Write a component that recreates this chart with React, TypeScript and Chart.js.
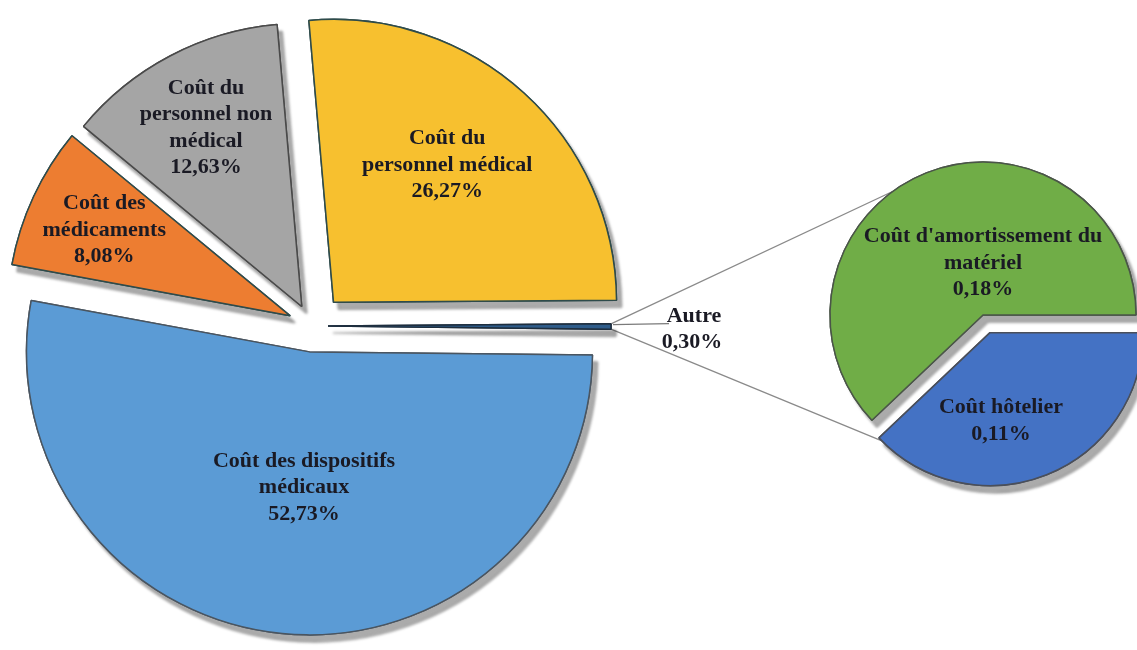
import React, { useEffect, useRef } from "react";
import { Chart, registerables, ArcElement } from "chart.js";

Chart.register(...registerables);

// ---------- DATA ----------
const mainCategories = [
  "Coût du personnel médical",
  "Autre",
  "Coût des dispositifs médicaux",
  "Coût des médicaments",
  "Coût du personnel non médical",
];
const mainValues = [26.27, 0.3, 52.73, 8.08, 12.63];
const mainLabelLines = [
  ["Coût du", "personnel médical"],
  ["Autre"],
  ["Coût des dispositifs", "médicaux"],
  ["Coût des", "médicaments"],
  ["Coût du", "personnel non", "médical"],
];

const subCategories = ["Coût hôtelier", "Coût d'amortissement du matériel"];
const subValues = [0.11, 0.18];
const subLabelLines = [["Coût hôtelier"], ["Coût d'amortissement du", "matériel"]];

// ---------- STYLE ----------
const MAIN_COLORS = ["#F7C02F", "#2E5C8A", "#5B9BD5", "#ED7D31", "#A5A5A5"];
const MAIN_BORDERS = ["#2E4B4B", "#1E2E3E", "#4A5560", "#2E4B4B", "#4A4A4A"];
const MAIN_EXPLODE = [32, 16, 26, 24, 22];
// [angle clockwise from top (deg), distance as fraction of radius] from the slice vertex
const MAIN_LABEL_POS: (number[] | null)[] = [
  [39.6, 0.63],
  null,
  [182.3, 0.48],
  [294.8, 0.724],
  [331.8, 0.716],
];
const SUB_COLORS = ["#4472C4", "#70AD47"];
const SUB_BORDERS = ["#4A4F5A", "#4A5548"];
const SUB_EXPLODE = [19, 0];
const SUB_LABEL_POS = [
  [172.9, 0.58],
  [0, 0.34],
];
const FONT = 'bold 22px "Liberation Serif", "Times New Roman", serif';
const TEXT_COLOR = "#1a1a24";
const LINE_H = 26.5;
const W = 1137;
const H = 650;

const pct = (v: number) => v.toFixed(2).replace(".", ",") + "%";

function vertex(el: any, t: number) {
  const mid = (el.startAngle + el.endAngle) / 2;
  return { x: el.x + Math.cos(mid) * t, y: el.y + Math.sin(mid) * t };
}
function polar(p: { x: number; y: number }, deg: number, r: number) {
  const a = (deg * Math.PI) / 180;
  return { x: p.x + Math.sin(a) * r, y: p.y - Math.cos(a) * r };
}

function explodePlugin(explode: number[]) {
  return {
    id: "explodeShadow",
    beforeDatasetsDraw(chart: any) {
      const meta = chart.getDatasetMeta(0);
      const orig = ArcElement.prototype.draw;
      meta.data.forEach((el: any, i: number) => {
        if (el.__patched) return;
        el.__patched = true;
        el.draw = function (ctx: CanvasRenderingContext2D) {
          const t = explode[i] || 0;
          const mid = (this.startAngle + this.endAngle) / 2;
          ctx.save();
          ctx.translate(Math.cos(mid) * t, Math.sin(mid) * t);
          ctx.save();
          ctx.shadowColor = "rgba(0,0,0,0.33)";
          ctx.shadowOffsetX = 5;
          ctx.shadowOffsetY = 7;
          ctx.shadowBlur = 3;
          orig.call(this, ctx);
          ctx.restore();
          orig.call(this, ctx);
          ctx.restore();
        };
      });
    },
  };
}

function drawLines(ctx: CanvasRenderingContext2D, lines: string[], x: number, y: number) {
  lines.forEach((s, k) => {
    ctx.fillText(s, x, y + (k - (lines.length - 1) / 2) * LINE_H);
  });
}

export default function App() {
  const mainRef = useRef<HTMLCanvasElement>(null);
  const subRef = useRef<HTMLCanvasElement>(null);

  useEffect(() => {
    if (!mainRef.current || !subRef.current) return;

    const subLabelsPlugin = {
      id: "subLabels",
      afterDatasetsDraw(chart: any) {
        const ctx = chart.ctx as CanvasRenderingContext2D;
        const meta = chart.getDatasetMeta(0);
        ctx.save();
        ctx.font = FONT;
        ctx.fillStyle = TEXT_COLOR;
        ctx.textAlign = "center";
        ctx.textBaseline = "middle";
        meta.data.forEach((el: any, i: number) => {
          const pos = SUB_LABEL_POS[i];
          const v = vertex(el, SUB_EXPLODE[i]);
          const p = polar(v, pos[0], pos[1] * el.outerRadius);
          drawLines(ctx, [...subLabelLines[i], pct(subValues[i])], p.x, p.y);
        });
        ctx.restore();
      },
    };

    const sub = new Chart(subRef.current, {
      type: "pie",
      data: {
        labels: subCategories,
        datasets: [
          {
            data: subValues,
            backgroundColor: SUB_COLORS,
            borderColor: SUB_BORDERS,
            borderWidth: 1.5,
          },
        ],
      },
      options: {
        responsive: false,
        animation: false,
        events: [],
        rotation: 90,
        radius: 153,
        layout: { padding: { left: 829, right: 0, top: 0, bottom: 20 } },
        plugins: { legend: { display: false }, tooltip: { enabled: false } },
      } as any,
      plugins: [explodePlugin(SUB_EXPLODE), subLabelsPlugin],
    });

    const mainLabelsPlugin = {
      id: "mainLabels",
      beforeDatasetsDraw(chart: any) {
        // connector lines from the "Autre" slice to the secondary pie
        const ctx = chart.ctx as CanvasRenderingContext2D;
        const el = chart.getDatasetMeta(0).data[1];
        const sm = sub.getDatasetMeta(0).data as any[];
        if (!el || !sm.length) return;
        const v = vertex(el, MAIN_EXPLODE[1]);
        const R = el.outerRadius;
        const s1 = { x: v.x + Math.cos(el.startAngle) * R, y: v.y + Math.sin(el.startAngle) * R };
        const s2 = { x: v.x + Math.cos(el.endAngle) * R, y: v.y + Math.sin(el.endAngle) * R };
        const g = sm[1];
        const gv = vertex(g, SUB_EXPLODE[1]);
        const top = polar(gv, 324, g.outerRadius);
        const b = sm[0];
        const bv = vertex(b, SUB_EXPLODE[0]);
        const bot = polar(bv, 225, b.outerRadius);
        ctx.save();
        ctx.strokeStyle = "#8a8a8a";
        ctx.lineWidth = 1.3;
        ctx.beginPath();
        ctx.moveTo(s1.x, s1.y);
        ctx.lineTo(top.x, top.y);
        ctx.moveTo(s2.x, s2.y);
        ctx.lineTo(bot.x, bot.y);
        ctx.stroke();
        ctx.restore();
      },
      afterDatasetsDraw(chart: any) {
        const ctx = chart.ctx as CanvasRenderingContext2D;
        const meta = chart.getDatasetMeta(0);
        ctx.save();
        ctx.font = FONT;
        ctx.fillStyle = TEXT_COLOR;
        ctx.textAlign = "center";
        ctx.textBaseline = "middle";
        meta.data.forEach((el: any, i: number) => {
          const pos = MAIN_LABEL_POS[i];
          const v = vertex(el, MAIN_EXPLODE[i]);
          if (!pos) {
            // outside label with leader line
            const mid = (el.startAngle + el.endAngle) / 2;
            const o = { x: v.x + Math.cos(mid) * el.outerRadius, y: v.y + Math.sin(mid) * el.outerRadius };
            ctx.save();
            ctx.strokeStyle = "#7a7a7a";
            ctx.lineWidth = 1.3;
            ctx.beginPath();
            ctx.moveTo(o.x + 2, o.y - 2);
            ctx.lineTo(o.x + 58, o.y - 3);
            ctx.stroke();
            ctx.restore();
            ctx.fillText(mainLabelLines[i][0], o.x + 83, o.y - 10);
            ctx.fillText(pct(mainValues[i]), o.x + 81, o.y + 16);
            return;
          }
          const p = polar(v, pos[0], pos[1] * el.outerRadius);
          drawLines(ctx, [...mainLabelLines[i], pct(mainValues[i])], p.x, p.y);
        });
        ctx.restore();
      },
    };

    const main = new Chart(mainRef.current, {
      type: "pie",
      data: {
        labels: mainCategories,
        datasets: [
          {
            data: mainValues,
            backgroundColor: MAIN_COLORS,
            borderColor: MAIN_BORDERS,
            borderWidth: 1.5,
          },
        ],
      },
      options: {
        responsive: false,
        animation: false,
        events: [],
        rotation: -5,
        radius: 283,
        layout: { padding: { left: 0, right: 513, top: 2, bottom: 0 } },
        plugins: { legend: { display: false }, tooltip: { enabled: false } },
      } as any,
      plugins: [explodePlugin(MAIN_EXPLODE), mainLabelsPlugin],
    });

    return () => {
      main.destroy();
      sub.destroy();
    };
  }, []);

  const cs: React.CSSProperties = { position: "absolute", left: 0, top: 0, width: W, height: H };
  return (
    <div style={{ position: "absolute", left: 0, top: 0, width: W, height: H, background: "#fff", overflow: "hidden" }}>
      <canvas ref={mainRef} width={W} height={H} style={cs} />
      <canvas ref={subRef} width={W} height={H} style={{ ...cs, pointerEvents: "none" }} />
    </div>
  );
}
